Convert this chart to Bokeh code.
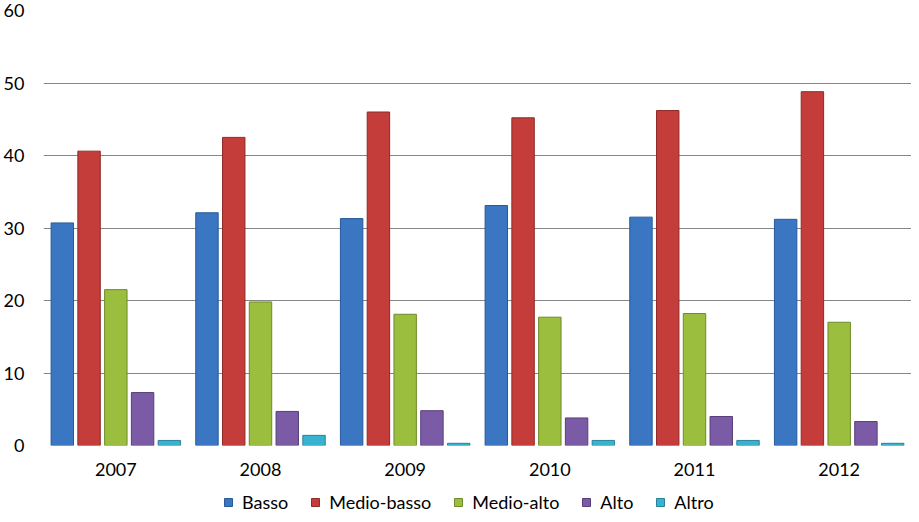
from bokeh.plotting import figure
from bokeh.models import FactorRange, Range1d, Legend, LegendItem, ColumnDataSource
from bokeh.layouts import column
from bokeh.transform import dodge
from bokeh.embed import file_html
from bokeh.resources import INLINE

years = ["2007", "2008", "2009", "2010", "2011", "2012"]
series_names = ["Basso", "Medio-basso", "Medio-alto", "Alto", "Altro"]
basso = [30.7, 32.1, 31.3, 33.1, 31.5, 31.2]
medio_basso = [40.6, 42.5, 46.0, 45.2, 46.2, 48.8]
medio_alto = [21.5, 19.8, 18.1, 17.7, 18.2, 17.0]
alto = [7.3, 4.7, 4.8, 3.8, 4.0, 3.3]
altro = [0.7, 1.4, 0.3, 0.7, 0.7, 0.3]
y_ticks = [0, 10, 20, 30, 40, 50, 60]

colors = ["#3A76C2", "#C43D3A", "#9CBE3F", "#7C5BA6", "#38B2CF"]
edges = ["#285A9A", "#8E2A28", "#6E8A2A", "#573F7A", "#2A8299"]

src = ColumnDataSource(dict(year=years, Basso=basso, MB=medio_basso, MA=medio_alto, Alto=alto, Altro=altro))
cols = ["Basso", "MB", "MA", "Alto", "Altro"]

FONT = "Lato"

p = figure(width=911, height=484, x_range=FactorRange(*years, range_padding=0),
           y_range=Range1d(y_ticks[0], y_ticks[-1]), output_backend="svg", toolbar_location=None,
           min_border_left=42, min_border_right=0, min_border_top=10, min_border_bottom=39)
p.outline_line_color = None
p.background_fill_color = "white"
p.border_fill_color = "white"

step = 0.185
width = 0.155
for i, c in enumerate(cols):
    off = (i - 2) * step
    p.vbar(x=dodge("year", off, range=p.x_range), top=c, bottom=0, width=width, source=src,
           fill_color=colors[i], line_color=edges[i], line_width=1)

p.xgrid.grid_line_color = None
p.ygrid.grid_line_color = "#868686"
p.ygrid.grid_line_width = 1
p.yaxis.ticker = y_ticks
for ax in (p.xaxis[0], p.yaxis[0]):
    ax.axis_line_color = None
    ax.major_tick_line_color = None
    ax.minor_tick_line_color = None
    ax.major_tick_out = 0
    ax.major_tick_in = 0
    ax.minor_tick_out = 0
    ax.minor_tick_in = 0
    ax.major_label_text_font = FONT
    ax.major_label_text_font_size = "18px"
    ax.major_label_text_color = "#000000"
p.yaxis.major_label_standoff = 19
p.xaxis.major_label_standoff = 17

# legend strip (a second figure without axes; its dummy marks lie outside its ranges)
lg = figure(width=911, height=30, x_range=Range1d(0, 1), y_range=Range1d(0, 1),
            output_backend="svg", toolbar_location=None,
            x_axis_location=None, y_axis_location=None,
            min_border_left=0, min_border_right=0, min_border_top=0, min_border_bottom=0)
lg.outline_line_color = None
lg.grid.visible = False
dummy = ColumnDataSource(dict(x=[-5], top=[-5]))
items = []
for i, n in enumerate(series_names):
    r = lg.vbar(x="x", top="top", bottom=-6, width=0.1, source=dummy,
                fill_color=colors[i], line_color=edges[i])
    items.append(LegendItem(label=n, renderers=[r]))
legend = Legend(items=items, orientation="horizontal", location=(180, 1),
                label_text_font=FONT, label_text_font_size="18px", label_text_color="#000000",
                glyph_width=10, glyph_height=10, label_standoff=9, spacing=22,
                padding=0, margin=0, border_line_color=None, background_fill_alpha=0,
                label_height=18)
lg.add_layout(legend, "center")

layout = column(p, lg, spacing=0)
open("out.html", "w").write(file_html(layout, INLINE))
